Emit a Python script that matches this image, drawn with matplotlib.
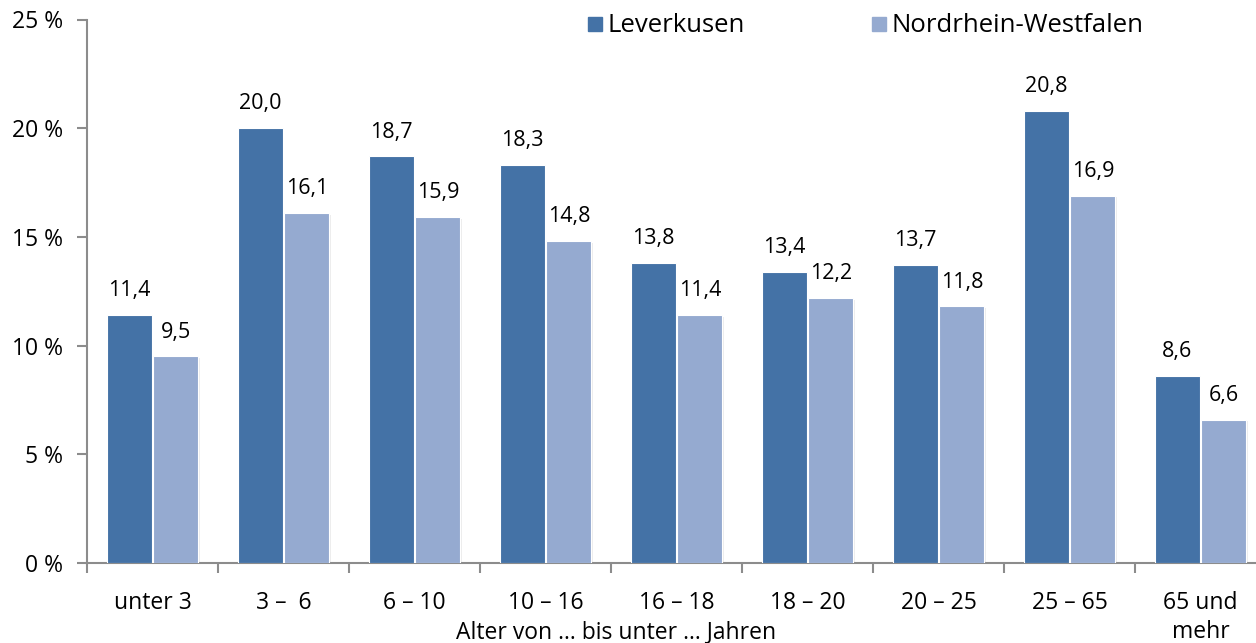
import matplotlib
matplotlib.use("Agg")
import matplotlib.pyplot as plt
from matplotlib.lines import Line2D
import numpy as np

categories = ["unter 3", "3 \u2013  6", "6 \u2013 10", "10 \u2013 16", "16 \u2013 18",
              "18 \u2013 20", "20 \u2013 25", "25 \u2013 65", "65 und\nmehr"]
leverkusen = [11.4, 20.0, 18.7, 18.3, 13.8, 13.4, 13.7, 20.8, 8.6]
nrw = [9.5, 16.1, 15.9, 14.8, 11.4, 12.2, 11.8, 16.9, 6.6]
series_names = ["Leverkusen", "Nordrhein-Westfalen"]
yticks = [0, 5, 10, 15, 20, 25]
xlabel = "Alter von ... bis unter ... Jahren"

dark = "#4472A6"
light = "#95AAD0"
axis_col = "#8C8C8C"

plt.rcParams['font.family'] = ['Open Sans', 'DejaVu Sans']

W, H = 1256, 643
fig = plt.figure(figsize=(W / 100, H / 100), dpi=100)
ax = fig.add_axes([87 / W, (H - 563) / H, 1179 / W, 543.5 / H])

x = np.arange(len(categories))
bw = 0.343
off = 0.178
b1 = ax.bar(x - off, leverkusen, bw, color=dark, edgecolor="white", linewidth=0.8, zorder=3)
b2 = ax.bar(x + off, nrw, bw, color=light, edgecolor="white", linewidth=0.8, zorder=3)

# subtle shadows
for bars in (b1, b2):
    for r in bars:
        ax.bar(r.get_x() + r.get_width() / 2 + 0.012, r.get_height(), r.get_width(),
               bottom=-0.08, color="#000000", alpha=0.07, zorder=2, linewidth=0)

for vals, xs in ((leverkusen, x - off), (nrw, x + off)):
    for xi, v in zip(xs, vals):
        ax.annotate(f"{v:.1f}".replace(".", ","), (xi, v), xytext=(0, 10),
                    textcoords="offset points", ha="center", va="bottom", fontsize=15.5)

ax.set_xlim(-0.5, len(categories) - 0.5)
ax.set_ylim(0, 25)
ax.set_yticks(yticks)
ax.set_yticklabels([f"{t} %" for t in yticks], fontsize=16.5)
ax.set_xticks(x)
ax.set_xticklabels(categories, fontsize=16.5, linespacing=1.3, va="top")
ax.set_xticks(np.arange(len(categories) + 1) - 0.5, minor=True)
ax.tick_params(axis="x", which="major", length=0, pad=20)
ax.tick_params(axis="x", which="minor", length=7, width=1.5, color=axis_col, direction="out")
ax.tick_params(axis="y", length=7, width=1.5, color=axis_col, direction="out", pad=10)

for s in ("top", "right"):
    ax.spines[s].set_visible(False)
for s in ("left", "bottom"):
    ax.spines[s].set_color(axis_col)
    ax.spines[s].set_linewidth(1.5)

fig.text(616 / W, 1 - 632 / H, xlabel, ha="center", va="center", fontsize=16.5)

handles = [Line2D([], [], marker="s", linestyle="none", markersize=10, color=c) for c in (dark, light)]
leg = fig.legend(handles, series_names, loc="center left", bbox_to_anchor=(582 / W, 1 - 26 / H),
                 ncol=2, frameon=False, fontsize=18.5, handletextpad=0.0, columnspacing=4.7,
                 handlelength=1.0, borderaxespad=0, borderpad=0)

fig.savefig("out.png", dpi=100)
